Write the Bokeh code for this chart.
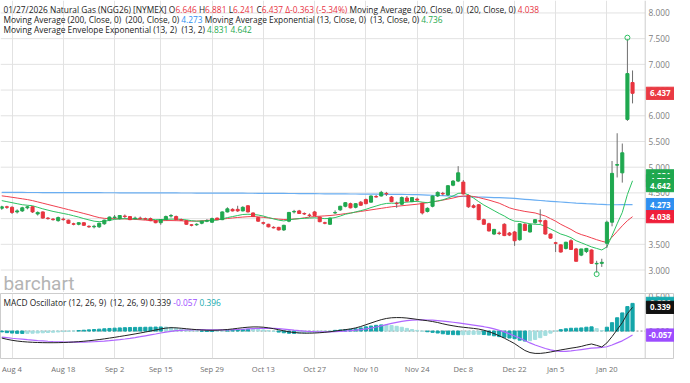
import glob, os, subprocess
import numpy as np
from bokeh.plotting import figure
from bokeh.layouts import column
from bokeh.models import Range1d, FixedTicker, Label, Span, ColumnDataSource
from bokeh.core.properties import value
from bokeh.embed import file_html
from bokeh.resources import INLINE

# ---------------- data ----------------
dates = ["Jul 31", "Aug 1",
         "Aug 4", "Aug 5", "Aug 6", "Aug 7", "Aug 8",
         "Aug 11", "Aug 12", "Aug 13", "Aug 14", "Aug 15",
         "Aug 18", "Aug 19", "Aug 20", "Aug 21", "Aug 22",
         "Aug 25", "Aug 26", "Aug 27", "Aug 28", "Aug 29",
         "Sep 2", "Sep 3", "Sep 4", "Sep 5",
         "Sep 8", "Sep 9", "Sep 10", "Sep 11", "Sep 12",
         "Sep 15", "Sep 16", "Sep 17", "Sep 18", "Sep 19",
         "Sep 22", "Sep 23", "Sep 24", "Sep 25", "Sep 26",
         "Sep 29", "Sep 30", "Oct 1", "Oct 2", "Oct 3",
         "Oct 6", "Oct 7", "Oct 8", "Oct 9", "Oct 10",
         "Oct 13", "Oct 14", "Oct 15", "Oct 16", "Oct 17",
         "Oct 20", "Oct 21", "Oct 22", "Oct 23", "Oct 24",
         "Oct 27", "Oct 28", "Oct 29", "Oct 30", "Oct 31",
         "Nov 3", "Nov 4", "Nov 5", "Nov 6", "Nov 7",
         "Nov 10", "Nov 11", "Nov 12", "Nov 13", "Nov 14",
         "Nov 17", "Nov 18", "Nov 19", "Nov 20", "Nov 21",
         "Nov 24", "Nov 25", "Nov 26", "Nov 28",
         "Dec 1", "Dec 2", "Dec 3", "Dec 4", "Dec 5",
         "Dec 8", "Dec 9", "Dec 10", "Dec 11", "Dec 12",
         "Dec 15", "Dec 16", "Dec 17", "Dec 18", "Dec 19",
         "Dec 22", "Dec 23", "Dec 24", "Dec 26",
         "Dec 29", "Dec 30", "Dec 31", "Jan 2",
         "Jan 5", "Jan 6", "Jan 7", "Jan 8", "Jan 9",
         "Jan 12", "Jan 13", "Jan 14", "Jan 15", "Jan 16",
         "Jan 20", "Jan 21", "Jan 22", "Jan 23",
         "Jan 26", "Jan 27"]

opens = [4.20, 4.23, 4.22, 4.13, 4.15, 4.21, 4.23, 4.09, 4.13, 4.01,
         3.99, 3.96, 3.99, 3.97, 3.90, 3.89, 3.92, 3.85, 3.84, 3.84,
         3.90, 3.97, 4.02, 4.00, 4.05, 4.04, 4.00, 4.01, 4.00, 4.00,
         3.96, 3.92, 3.98, 4.05, 4.04, 3.98, 3.96, 3.88, 3.88, 3.91,
         3.95, 3.93, 4.01, 3.98, 4.13, 4.18, 4.18, 4.15, 4.25, 4.11,
         4.02, 3.92, 3.89, 3.83, 3.83, 3.78, 3.95, 4.13, 4.15, 4.10,
         4.07, 4.13, 4.03, 3.92, 3.89, 4.11, 4.17, 4.24, 4.29, 4.22,
         4.32, 4.37, 4.32, 4.43, 4.44, 4.49, 4.42, 4.30, 4.28, 4.40,
         4.33, 4.38, 4.30, 4.14, 4.24, 4.44, 4.49, 4.46, 4.65, 4.73,
         4.71, 4.45, 4.25, 4.27, 3.98, 3.90, 3.70, 3.72, 3.89, 3.72,
         3.74, 3.59, 3.89, 3.74, 3.92, 3.96, 3.96, 3.70, 3.53, 3.49,
         3.42, 3.57, 3.41, 3.29, 3.36, 3.39, 3.12, 3.13, 3.52, 3.93,
         5.04, 4.89, 5.93, 6.646]
highs = [4.25, 4.25, 4.24, 4.18, 4.23, 4.25, 4.24, 4.14, 4.14, 4.03,
         4.01, 4.04, 4.02, 3.98, 3.92, 3.93, 3.93, 3.87, 3.88, 3.92,
         3.98, 4.04, 4.07, 4.07, 4.08, 4.05, 4.04, 4.04, 4.02, 4.02,
         3.97, 3.99, 4.06, 4.09, 4.06, 4.00, 3.97, 3.89, 3.91, 3.96,
         3.99, 4.02, 4.02, 4.14, 4.22, 4.20, 4.25, 4.24, 4.26, 4.12,
         4.03, 3.94, 3.90, 3.85, 3.84, 3.88, 4.13, 4.17, 4.17, 4.12,
         4.10, 4.15, 4.04, 3.94, 4.02, 4.16, 4.25, 4.32, 4.31, 4.30,
         4.34, 4.39, 4.45, 4.46, 4.54, 4.52, 4.44, 4.33, 4.43, 4.44,
         4.42, 4.41, 4.31, 4.22, 4.45, 4.53, 4.52, 4.65, 4.75, 5.02,
         4.75, 4.47, 4.28, 4.28, 4.00, 3.92, 3.80, 3.75, 3.91, 3.74,
         3.76, 3.91, 3.91, 3.89, 3.99, 4.18, 3.98, 3.71, 3.55, 3.50,
         3.55, 3.60, 3.43, 3.41, 3.43, 3.40, 3.18, 3.22, 3.96, 5.12,
         5.66, 5.46, 7.49, 6.881]
lows = [4.17, 4.19, 4.09, 4.10, 4.13, 4.18, 4.11, 4.06, 4.00, 3.98,
        3.96, 3.94, 3.96, 3.90, 3.87, 3.87, 3.86, 3.82, 3.81, 3.82,
        3.88, 3.95, 3.99, 3.98, 4.01, 3.97, 3.98, 3.98, 3.98, 3.95,
        3.91, 3.88, 3.97, 4.02, 3.97, 3.96, 3.88, 3.85, 3.86, 3.89,
        3.93, 3.92, 3.97, 3.97, 4.12, 4.14, 4.13, 4.14, 4.12, 4.03,
        3.94, 3.88, 3.83, 3.81, 3.77, 3.76, 3.93, 4.10, 4.09, 4.07,
        4.03, 4.05, 3.93, 3.89, 3.88, 4.09, 4.15, 4.22, 4.20, 4.20,
        4.25, 4.28, 4.31, 4.41, 4.43, 4.44, 4.32, 4.21, 4.26, 4.33,
        4.32, 4.34, 4.08, 4.12, 4.22, 4.42, 4.45, 4.44, 4.63, 4.71,
        4.47, 4.21, 4.20, 3.97, 3.88, 3.75, 3.68, 3.68, 3.66, 3.66,
        3.47, 3.57, 3.76, 3.73, 3.90, 3.90, 3.69, 3.61, 3.35, 3.34,
        3.40, 3.39, 3.17, 3.27, 3.33, 3.12, 2.95, 3.06, 3.43, 3.85,
        4.80, 4.70, 5.90, 6.241]
closes = [4.23, 4.22, 4.12, 4.15, 4.21, 4.23, 4.13, 4.12, 4.01, 4.00,
          3.98, 4.02, 3.98, 3.91, 3.89, 3.92, 3.87, 3.84, 3.85, 3.91,
          3.97, 4.03, 4.03, 4.06, 4.04, 3.98, 4.01, 4.00, 3.99, 3.96,
          3.92, 3.98, 4.04, 4.06, 3.98, 3.97, 3.89, 3.87, 3.89, 3.95,
          3.96, 4.00, 3.98, 4.13, 4.19, 4.15, 4.15, 4.22, 4.13, 4.04,
          3.95, 3.91, 3.84, 3.82, 3.78, 3.87, 4.12, 4.14, 4.10, 4.09,
          4.06, 4.06, 3.94, 3.91, 4.01, 4.12, 4.24, 4.31, 4.21, 4.29,
          4.26, 4.29, 4.44, 4.42, 4.51, 4.48, 4.33, 4.29, 4.41, 4.34,
          4.41, 4.36, 4.11, 4.20, 4.44, 4.51, 4.48, 4.64, 4.73, 4.89,
          4.48, 4.23, 4.22, 3.98, 3.89, 3.76, 3.79, 3.71, 3.67, 3.68,
          3.57, 3.90, 3.77, 3.88, 3.98, 3.95, 3.70, 3.62, 3.52, 3.35,
          3.54, 3.40, 3.17, 3.41, 3.42, 3.13, 3.13, 3.15, 3.93, 4.88,
          5.05, 5.28, 6.82, 6.437]

ma20 = [4.443, 4.430, 4.415, 4.400, 4.385, 4.370, 4.350, 4.325, 4.300, 4.275,
        4.250, 4.225, 4.200, 4.175, 4.150, 4.126, 4.100, 4.075, 4.045, 4.020,
        4.005, 4.000, 3.998, 3.996, 3.994, 3.990, 3.985, 3.978, 3.970, 3.962,
        3.955, 3.958, 3.962, 3.962, 3.960, 3.957, 3.953, 3.950, 3.952, 3.958,
        3.965, 3.972, 3.982, 3.992, 4.002, 4.012, 4.022, 4.030, 4.037, 4.040,
        4.035, 4.025, 4.013, 4.000, 3.990, 3.982, 3.985, 3.992, 4.000, 4.015,
        4.030, 4.040, 4.047, 4.053, 4.060, 4.070, 4.083, 4.097, 4.110, 4.125,
        4.140, 4.155, 4.170, 4.185, 4.200, 4.215, 4.230, 4.240, 4.250, 4.260,
        4.270, 4.280, 4.295, 4.310, 4.325, 4.340, 4.360, 4.380, 4.400, 4.425,
        4.440, 4.440, 4.430, 4.410, 4.385, 4.360, 4.330, 4.300, 4.255, 4.210,
        4.180, 4.160, 4.140, 4.125, 4.110, 4.080, 4.050, 4.000, 3.950, 3.890,
        3.840, 3.790, 3.730, 3.690, 3.660, 3.625, 3.590, 3.560, 3.535, 3.640,
        3.750, 3.860, 3.960, 4.038]
ma200 = [4.510, 4.510, 4.509, 4.509, 4.509, 4.508, 4.508, 4.508, 4.507, 4.507,
         4.507, 4.506, 4.506, 4.506, 4.505, 4.505, 4.505, 4.504, 4.504, 4.504,
         4.503, 4.503, 4.503, 4.502, 4.502, 4.502, 4.501, 4.501, 4.501, 4.500,
         4.500, 4.500, 4.499, 4.499, 4.499, 4.498, 4.498, 4.498, 4.497, 4.497,
         4.497, 4.496, 4.496, 4.496, 4.495, 4.495, 4.494, 4.494, 4.493, 4.493,
         4.492, 4.492, 4.491, 4.490, 4.490, 4.489, 4.488, 4.488, 4.487, 4.486,
         4.486, 4.485, 4.484, 4.483, 4.483, 4.482, 4.481, 4.480, 4.479, 4.479,
         4.478, 4.477, 4.476, 4.475, 4.474, 4.473, 4.472, 4.471, 4.470, 4.469,
         4.468, 4.466, 4.462, 4.458, 4.454, 4.450, 4.446, 4.442, 4.438, 4.434,
         4.430, 4.427, 4.424, 4.420, 4.417, 4.414, 4.410, 4.407, 4.404, 4.400,
         4.392, 4.384, 4.376, 4.368, 4.360, 4.352, 4.344, 4.337, 4.330, 4.323,
         4.316, 4.309, 4.302, 4.296, 4.290, 4.285, 4.280, 4.276, 4.272, 4.270,
         4.270, 4.271, 4.272, 4.273]
ema13 = [4.350, 4.330, 4.310, 4.290, 4.270, 4.260, 4.250, 4.220, 4.190, 4.165,
         4.140, 4.120, 4.100, 4.080, 4.055, 4.030, 4.000, 3.975, 3.950, 3.940,
         3.950, 3.965, 3.985, 3.995, 4.000, 3.995, 3.995, 3.995, 3.990, 3.985,
         3.980, 3.980, 3.985, 3.990, 3.990, 3.985, 3.975, 3.960, 3.950, 3.950,
         3.955, 3.965, 3.970, 3.995, 4.020, 4.040, 4.060, 4.080, 4.085, 4.080,
         4.070, 4.050, 4.020, 3.995, 3.970, 3.955, 3.975, 3.990, 4.000, 4.005,
         4.010, 4.015, 4.010, 4.000, 4.005, 4.020, 4.050, 4.085, 4.105, 4.130,
         4.155, 4.180, 4.215, 4.245, 4.275, 4.295, 4.300, 4.300, 4.315, 4.320,
         4.330, 4.335, 4.320, 4.310, 4.325, 4.345, 4.365, 4.400, 4.440, 4.490,
         4.500, 4.460, 4.400, 4.330, 4.265, 4.210, 4.155, 4.100, 4.050, 3.990,
         3.950, 3.945, 3.920, 3.900, 3.890, 3.885, 3.850, 3.800, 3.750, 3.700,
         3.670, 3.630, 3.570, 3.530, 3.490, 3.450, 3.420, 3.390, 3.450, 3.670,
         3.900, 4.120, 4.470, 4.736]
envelope_last = [4.831, 4.642]

macd = [-0.100, -0.118, -0.132, -0.143, -0.151, -0.157, -0.161, -0.164, -0.166, -0.167,
        -0.167, -0.166, -0.164, -0.161, -0.157, -0.152, -0.146, -0.139, -0.131, -0.122,
        -0.112, -0.101, -0.090, -0.078, -0.066, -0.054, -0.041, -0.028, -0.014, 0.000,
        0.015, 0.030, 0.042, 0.048, 0.046, 0.040, 0.033, 0.026, 0.020, 0.015,
        0.012, 0.011, 0.012, 0.016, 0.022, 0.030, 0.039, 0.048, 0.055, 0.059,
        0.059, 0.055, 0.046, 0.034, 0.019, 0.003, -0.011, -0.021, -0.027, -0.030,
        -0.030, -0.028, -0.024, -0.018, -0.010, 0.000, 0.010, 0.020, 0.030, 0.045,
        0.065, 0.090, 0.115, 0.140, 0.163, 0.180, 0.190, 0.193, 0.192, 0.186,
        0.177, 0.167, 0.157, 0.148, 0.136, 0.122, 0.104, 0.088, 0.075, 0.063,
        0.054, 0.046, 0.038, 0.028, 0.012, -0.010, -0.036, -0.068, -0.102, -0.140,
        -0.180, -0.230, -0.278, -0.308, -0.320, -0.320, -0.312, -0.300, -0.285, -0.270,
        -0.258, -0.245, -0.234, -0.220, -0.200, -0.185, -0.205, -0.228, -0.170, -0.080,
        0.020, 0.120, 0.250, 0.339]
signal = [-0.088, -0.095, -0.103, -0.110, -0.117, -0.124, -0.130, -0.136, -0.141, -0.146,
          -0.150, -0.153, -0.156, -0.158, -0.159, -0.159, -0.158, -0.156, -0.153, -0.149,
          -0.144, -0.138, -0.131, -0.123, -0.114, -0.104, -0.093, -0.081, -0.068, -0.055,
          -0.042, -0.028, -0.015, -0.004, 0.005, 0.011, 0.015, 0.018, 0.019, 0.019,
          0.018, 0.017, 0.016, 0.016, 0.017, 0.019, 0.022, 0.026, 0.030, 0.034,
          0.037, 0.039, 0.040, 0.038, 0.034, 0.028, 0.021, 0.013, 0.006, 0.000,
          -0.005, -0.009, -0.012, -0.013, -0.012, -0.010, -0.006, -0.001, 0.005, 0.012,
          0.020, 0.030, 0.043, 0.058, 0.075, 0.093, 0.110, 0.125, 0.138, 0.148,
          0.155, 0.158, 0.159, 0.158, 0.155, 0.150, 0.143, 0.135, 0.126, 0.116,
          0.106, 0.096, 0.085, 0.074, 0.062, 0.048, 0.032, 0.012, -0.012, -0.040,
          -0.070, -0.100, -0.135, -0.170, -0.200, -0.225, -0.250, -0.270, -0.285, -0.290,
          -0.290, -0.285, -0.275, -0.265, -0.255, -0.245, -0.240, -0.235, -0.225, -0.200,
          -0.170, -0.140, -0.100, -0.057]

date_ticks = ["Aug 4", "Aug 18", "Sep 2", "Sep 15", "Sep 29", "Oct 13", "Oct 27",
              "Nov 10", "Nov 24", "Dec 8", "Dec 22", "Jan 5", "Jan 20"]
price_ticks = [3.0, 3.5, 4.0, 4.5, 5.0, 5.5, 6.0, 6.5, 7.0, 7.5, 8.0]
macd_ticks = [0.0, 0.5]

# ---------------- colours / fonts ----------------
GREEN = "#1fa84f"
RED = "#e8343f"
WICK = "#6e6e6e"
GRID = "#e2e2e2"
BORDER = "#cdcdcd"
FONT = "Open Sans"
BLACK = "#222222"
BLUE = "#2f8ff0"
TGREEN = "#1faa4f"
PURPLE = "#9d4dff"
TEAL = "#17abb0"

# ---------------- text measuring (for multi-colour header lines) ----------------
def _find_font():
    pats = ["OpenSans-Regular.ttf", "OpenSans*.ttf", "OpenSans*.otf"]
    roots = ["/usr/share/fonts", "/usr/local/share/fonts", os.path.expanduser("~/.fonts"),
             os.path.expanduser("~/.local/share/fonts")]
    for pat in pats:
        for r in roots:
            hits = sorted(glob.glob(os.path.join(r, "**", pat), recursive=True))
            hits = [h for h in hits if "Italic" not in h and "Bold" not in h and "Semi" not in h
                    and "Light" not in h and "Extra" not in h and "Condensed" not in h] or hits
            if hits:
                return hits[0]
    try:
        out = subprocess.run(["fc-match", "-f", "%{file}", "Open Sans"], capture_output=True,
                             text=True, timeout=5).stdout.strip()
        if out and os.path.exists(out):
            return out
    except Exception:
        pass
    return None

_measure = None
try:
    from PIL import ImageFont
    _fp = _find_font()
    if _fp:
        _pil = ImageFont.truetype(_fp, 100)
        _measure = lambda t, fs: _pil.getlength(t) * fs / 100.0
except Exception:
    _measure = None
if _measure is None:
    def _measure(t, fs):
        w = 0.0
        for ch in t:
            if ch in " ":
                w += 0.26
            elif ch in ".,:;'|!il":
                w += 0.25
            elif ch in "()[]-":
                w += 0.30
            elif ch.isdigit():
                w += 0.572
            elif ch in "MW%":
                w += 0.88
            elif ch.isupper():
                w += 0.64
            else:
                w += 0.53
        return w * fs

# ---------------- geometry (reference pixels -> scaled page) ----------------
S = 674 / 690.0
W = 674
PH = 292
MH = 65
PX = 5.25            # reference pixels per trading day
X0 = 1.3             # reference x of the first bar
def ix(xref):
    return (xref - X0) / PX

XSTART, XEND = ix(0), ix(690)
XSEP = ix(660)
XLAB = ix(663.5)
XTAG = ix(675.5)

n = len(dates)
xs = list(range(n))
tick_idx = [dates.index(d) for d in date_ticks]
xr = Range1d(XSTART, XEND)
PY0, PY1 = 2.563, 8.242
unit = (PY1 - PY0) / PH      # price units per screen pixel

o = np.array(opens); c = np.array(closes)
src = ColumnDataSource(dict(
    x=xs, o=opens, h=highs, l=lows, c=closes,
    top=np.maximum(o, c), bot=np.minimum(o, c),
    col=[GREEN if cc >= oo else RED for oo, cc in zip(opens, closes)],
    ma20=ma20, ma200=ma200, ema13=ema13))

def base_fig(h, yr):
    f = figure(frame_width=W, frame_height=h, x_range=xr, y_range=yr,
               output_backend="svg", toolbar_location=None,
               min_border_left=0, min_border_top=0, min_border_bottom=0, min_border_right=0)
    f.background_fill_color = "white"
    f.border_fill_color = "white"
    f.yaxis.visible = False
    f.ygrid.grid_line_color = None
    f.xgrid.ticker = FixedTicker(ticks=tick_idx)
    f.xgrid.grid_line_color = GRID
    f.add_layout(Span(location=XSEP, dimension="height", line_color=BORDER, line_width=1))
    return f

def text_line(fig, segments, x_start, y_base, fs):
    x = x_start
    for t, col in segments:
        lead = len(t) - len(t.lstrip(" "))
        core = t.strip(" ")
        if core:
            xo = x + _measure(" " * lead, fs) if lead else x
            fig.add_layout(Label(x=xo, y=y_base, x_units="screen", y_units="screen",
                                 text=core, text_font=FONT, text_font_size="%.2fpx" % fs,
                                 text_color=col, text_baseline="alphabetic", text_align="left"))
        x += _measure(t, fs)

line1 = [("01/27/2026 Natural Gas (NGG26) [NYMEX] O", BLACK), ("6.646", RED), (" H", BLACK),
         ("6.881", RED), (" L", BLACK), ("6.241", RED), (" C", BLACK), ("6.437", RED),
         (" \u0394-0.363 (-5.34%)", RED), (" Moving Average (20, Close, 0)", BLACK),
         ("  (20, Close, 0) ", BLACK), ("4.038", RED)]
line2 = [("Moving Average (200, Close, 0)", BLACK), ("  (200, Close, 0) ", BLACK),
         ("4.273", BLUE), (" Moving Average Exponential (13, Close, 0)", BLACK),
         ("  (13, Close, 0) ", BLACK), ("4.736", TGREEN)]
line3 = [("Moving Average Envelope Exponential (13, 2)", BLACK), ("  (13, 2) ", BLACK),
         ("4.831", TGREEN), (" 4.642", TGREEN)]
mline = [("MACD Oscillator (12, 26, 9)", BLACK), ("  (12, 26, 9) ", BLACK), ("0.339", BLACK),
         (" -0.057", PURPLE), (" 0.396", TEAL)]

_w8 = sum(_measure(t, 8.0) for t, _ in line1)
HFS = max(6.8, min(8.6, 8.0 * (548.5 * S) / _w8))

# ---------------- price panel ----------------
p = base_fig(PH, Range1d(PY0, PY1))
p.outline_line_color = None
p.xaxis.visible = False

p.segment(x0=[XSTART] * len(price_ticks), x1=[XSEP] * len(price_ticks),
          y0=price_ticks, y1=price_ticks, line_color=GRID, line_width=1)

# watermark (drawn as a glyph inside the plotting area)
p.text(x=[ix(3)], y=[PY0 + 9 * unit], text=["barchart"], text_font=value("Roboto"),
       text_font_size="19px", text_color="#b4b4b4", text_baseline="alphabetic",
       text_align="left")

p.line("x", "ma200", source=src, line_color="#6aaef2", line_width=1.2)
p.line("x", "ma20", source=src, line_color="#f0404f", line_width=1.0)
p.line("x", "ema13", source=src, line_color="#2cc262", line_width=1.0)
p.segment(x0="x", y0="l", x1="x", y1="h", source=src, line_color=WICK, line_width=1)
p.vbar(x="x", width=0.6, top="top", bottom="bot", source=src,
       fill_color="col", line_color="col", line_width=1)

# markers for the highest high and lowest low of the visible period
ih, il = int(np.argmax(highs)), int(np.argmin(lows))
p.scatter(x=[ih, il], y=[highs[ih] + 1.5 * unit, lows[il] - 1.5 * unit], marker="circle",
          size=5, fill_color=None, line_color="#2cc262", line_width=1)

p.text(x=[XLAB] * len(price_ticks), y=price_ticks, text=["%.3f" % t for t in price_ticks],
       text_font=value(FONT), text_font_size="8.3px", text_color="#808080",
       text_baseline="middle", text_align="left")

def tags(fig, vals, texts, colors):
    fig.rect(x=[XTAG] * len(vals), y=vals, width=29 * S, height=12.5 * S,
             width_units="screen", height_units="screen",
             fill_color=colors, line_color=colors)
    fig.text(x=[XTAG] * len(vals), y=vals, text=texts,
             text_font=value(FONT), text_font_size="8px", text_font_style="bold",
             text_color="white", text_baseline="middle", text_align="center")

for v, col in [(closes[-1], "#ea3a43"), (envelope_last[0], "#1fa84f"), (ema13[-1], "#1fa84f"),
               (envelope_last[1], "#1fa84f"), (ma200[-1], "#2f8ff0"), (ma20[-1], "#ef1f3a")]:
    tags(p, [v], ["%.3f" % v], [col])

text_line(p, line1, 3 * S, (299 - 9.2) * S, HFS)
text_line(p, line2, 3 * S, (299 - 19.6) * S, HFS)
text_line(p, line3, 3 * S, (299 - 29.8) * S, HFS)

# ---------------- MACD panel ----------------
hist = [mv - sv for mv, sv in zip(macd, signal)]
hcol = []
for i, h in enumerate(hist):
    prev = hist[i - 1] if i > 0 else h
    hcol.append("#15a6aa" if abs(h) >= abs(prev) else "#a3dedf")
msrc = ColumnDataSource(dict(x=xs, macd=macd, signal=signal, hist=hist, hcol=hcol))

m = base_fig(MH, Range1d(-0.393, 0.5375))
m.outline_line_color = BORDER
m.min_border_top = 1
xa = m.xaxis[0]
xa.ticker = FixedTicker(ticks=tick_idx)
xa.major_label_overrides = {i: d for i, d in zip(tick_idx, date_ticks)}
xa.major_tick_out = 0
xa.major_tick_in = 0
xa.minor_tick_out = 0
xa.minor_tick_in = 0
xa.axis_line_color = None
xa.major_label_standoff = 5
xa.major_label_text_font = FONT
xa.major_label_text_font_size = "7.6px"
xa.major_label_text_color = "#707070"

m.segment(x0=[XSTART], x1=[XSEP], y0=[macd_ticks[0]], y1=[macd_ticks[0]],
          line_color="#8a8a8a", line_dash="2 2", line_width=1)
m.vbar(x="x", width=0.62, top="hist", bottom=0, source=msrc,
       fill_color="hcol", line_color="hcol")
m.line("x", "signal", source=msrc, line_color="#b066ff", line_width=1.2)
m.line("x", "macd", source=msrc, line_color="#222222", line_width=1.0)

m.text(x=[XLAB] * len(macd_ticks), y=macd_ticks, text=["%.3f" % t for t in macd_ticks],
       text_font=value(FONT), text_font_size="8.3px", text_color="#808080",
       text_baseline="middle", text_align="left")

text_line(m, mline, 3 * S, (367 - 310) * S, HFS)

tags(m, [hist[-1]], ["%.3f" % hist[-1]], [TEAL])
tags(m, [macd[-1]], ["%.3f" % macd[-1]], ["#111111"])
tags(m, [signal[-1]], ["%.3f" % signal[-1]], [PURPLE])

layout = column(p, m, spacing=0)
open("out.html", "w").write(file_html(layout, INLINE))
